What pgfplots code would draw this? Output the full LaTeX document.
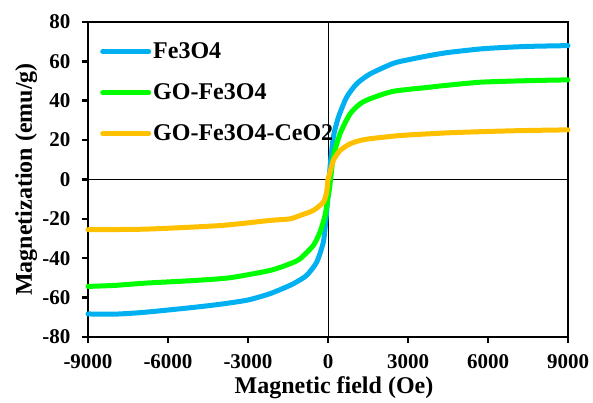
\documentclass[border=0pt]{standalone}
\usepackage{fontspec}
\setmainfont{Liberation Serif}
\usepackage{pgfplots}
\pgfplotsset{compat=1.18}
\definecolor{cblue}{HTML}{00B0F0}
\definecolor{cgreen}{HTML}{00FF00}
\definecolor{corange}{HTML}{FFC000}
\begin{document}
\begin{tikzpicture}
\begin{axis}[
  scale only axis,
  width=480pt, height=315pt,
  xmin=-9000, xmax=9000, ymin=-80, ymax=80,
  xtick={-9000,-6000,-3000,0,3000,6000,9000},
  ytick={-80,-60,-40,-20,0,20,40,60,80},
  xtick pos=bottom, ytick pos=left,
  tick align=outside,
  major tick length=6pt,
  every tick/.style={black, line width=2.5pt},
  axis line style={black, line width=2.5pt},
  /pgf/number format/assume math mode=true,
  /pgf/number format/1000 sep={},
  ticklabel style={font=\bfseries\fontsize{21}{21}\selectfont},
  xticklabel style={yshift=-8pt},
  yticklabel style={xshift=-8pt},
  label style={font=\bfseries\fontsize{24}{24}\selectfont},
  xlabel={Magnetic field (Oe)},
  ylabel={Magnetization (emu/g)},
  xlabel style={at={(axis description cs:0.5,0)}, anchor=base, yshift=-57pt, xshift=6pt},
  ylabel style={at={(axis description cs:-0.117,0.5)}, anchor=base, rotate=0},
  legend style={draw=none, fill=none, at={(axis description cs:0.025,0.94)}, anchor=north west,
    font=\bfseries\fontsize{24}{24}\selectfont, row sep=19.5pt, inner sep=0pt},
  legend cell align=left,
  legend image code/.code={\draw[#1] (0pt,0pt) -- (46pt,0pt);},
  clip=false,
]
\draw[black, line width=1pt] (axis cs:-9000,0) -- (axis cs:9000,0);
\draw[black, line width=1pt] (axis cs:0,-80) -- (axis cs:0,80);
\addplot[cblue, line width=5pt, line join=round, line cap=round, smooth, tension=0.4] coordinates {
(-9000,-68.3) (-8000,-68.4) (-7000,-67.6) (-6000,-66.3) (-5000,-64.9) (-4000,-63.3)
(-3000,-61.2) (-2175,-58) (-1425,-53.8) (-1175,-52) (-800,-48.7) (-425,-42)
(-175,-31.8) (-75,-20) (0,-8) (75,6) (200,21.5) (390,31.6) (700,41.8) (1075,48.6)
(1575,53.6) (2450,59.0) (3000,60.8) (3825,63) (4500,64.5) (5700,66.3) (6500,67)
(7500,67.6) (9000,68)
};
\addlegendentry{Fe3O4}
\addplot[cgreen, line width=5pt, line join=round, line cap=round, smooth, tension=0.4] coordinates {
(-9000,-54.3) (-8000,-53.8) (-6800,-52.6) (-5000,-51.3) (-3675,-49.9) (-2175,-46.2)
(-1425,-42.8) (-1050,-40.3) (-550,-33.5) (-300,-26.7) (-112,-18.3) (0,-9) (62,-4)
(200,11.3) (450,23.2) (825,33.3) (1200,38.4) (1575,41) (2450,44.8) (3825,46.9)
(4200,47.5) (5700,49.4) (7500,50.2) (9000,50.6)
};
\addlegendentry{GO-Fe3O4}
\addplot[corange, line width=5pt, line join=round, line cap=round, smooth, tension=0.4] coordinates {
(-9000,-25.5) (-6800,-25.2) (-4050,-23.4) (-2175,-20.8) (-1425,-20) (-1050,-18.3)
(-550,-15.7) (-175,-11.5) (-50,-6.4) (0,0) (62,3) (200,9.6) (450,14.7) (825,18.1)
(1200,19.8) (1575,20.7) (2450,22.0) (3000,22.6) (4500,23.7) (6000,24.4) (7500,24.9)
(9000,25.2)
};
\addlegendentry{GO-Fe3O4-CeO2}
\coordinate (ll) at (rel axis cs:0,0);
\coordinate (ur) at (rel axis cs:1,1);
\end{axis}
\pgfresetboundingbox
\path ([shift={(-88pt,-66pt)}]ll) rectangle ([shift={(25pt,22pt)}]ur);
\end{tikzpicture}
\end{document}
